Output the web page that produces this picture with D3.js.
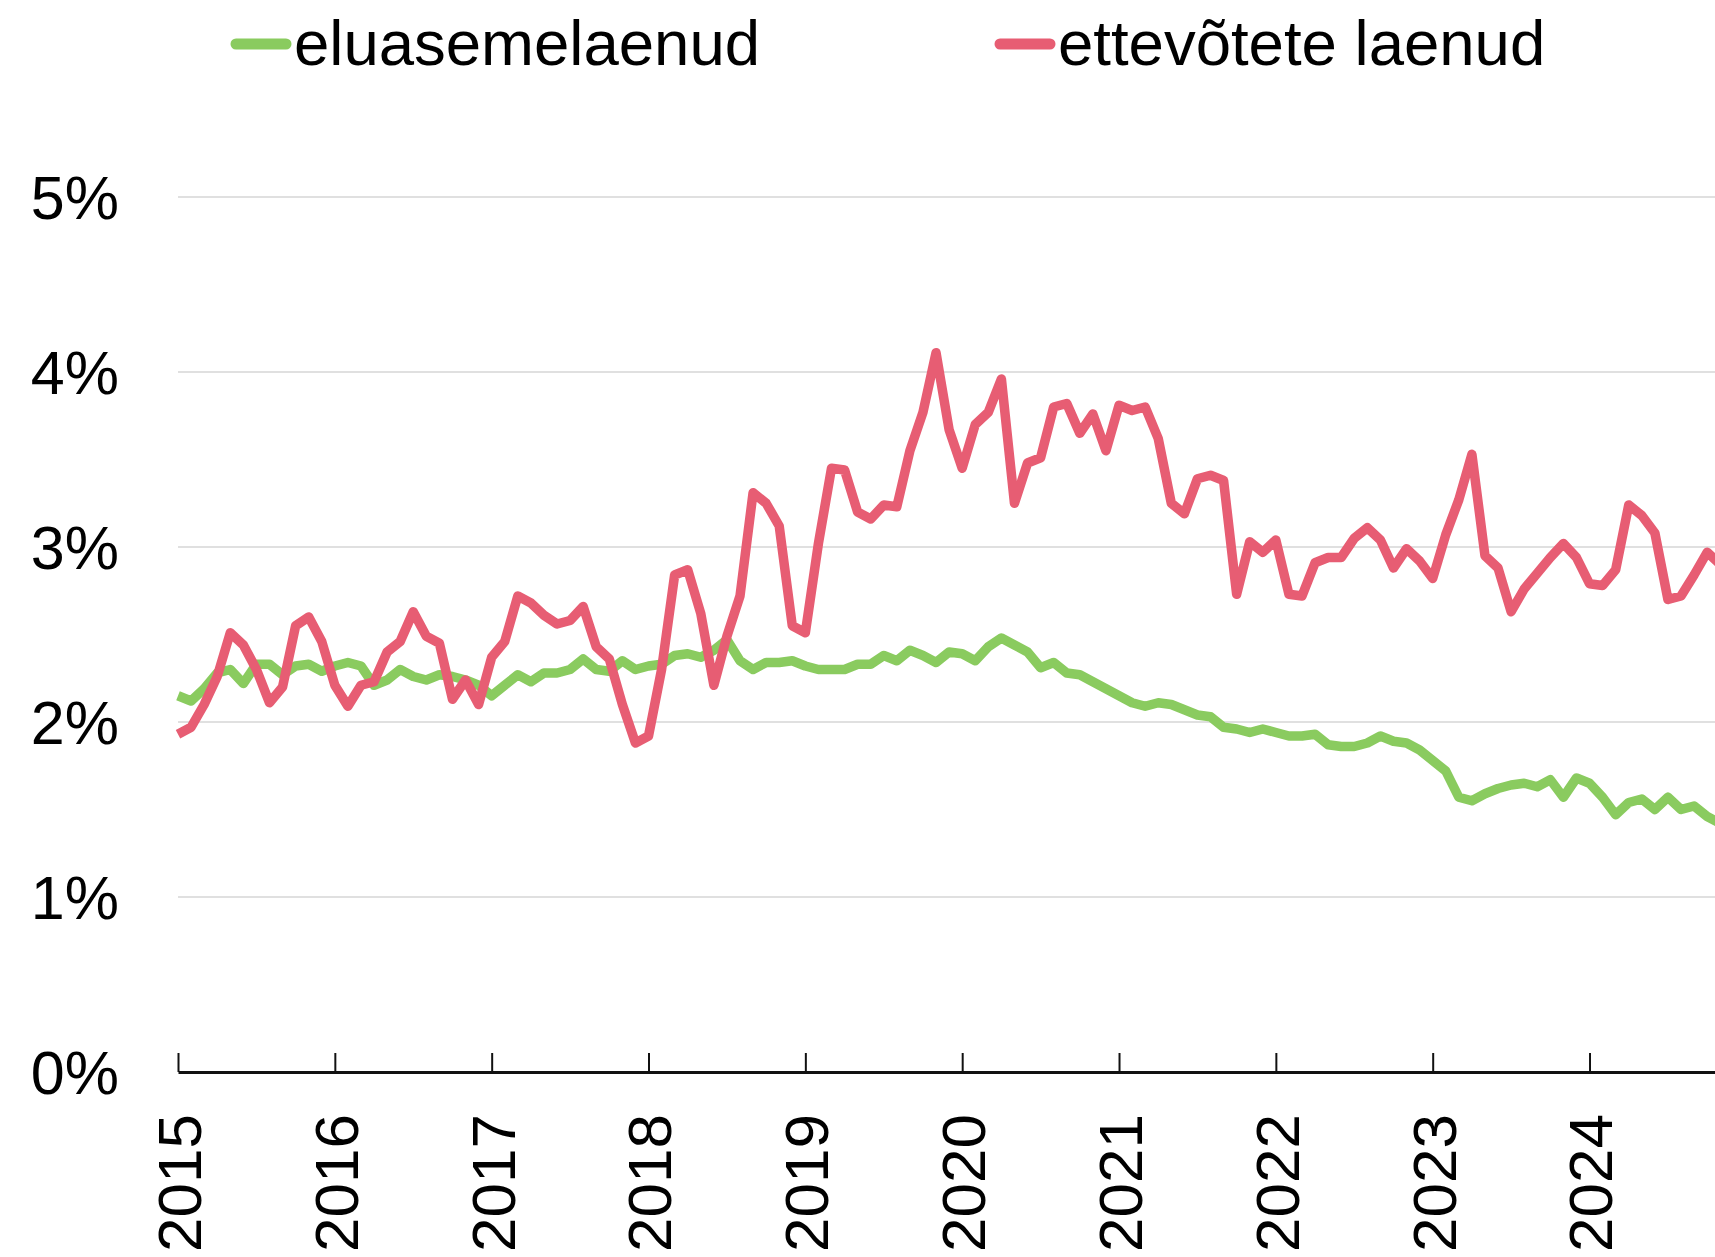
<!DOCTYPE html>
<html>
<head>
<meta charset="utf-8">
<script src="https://cdn.jsdelivr.net/npm/d3@7"></script>
<style>
  body { margin: 0; background: #fff; }
  svg { display: block; font-family: "Liberation Sans", Arial, sans-serif; }
</style>
</head>
<body>
<script>
// monthly values, Jan 2015 onwards (percent)
const housing = [
  2.15, 2.12, 2.19, 2.28, 2.30, 2.22, 2.33, 2.33, 2.27, 2.32, 2.33, 2.29,
  2.32, 2.34, 2.32, 2.21, 2.24, 2.30, 2.26, 2.24, 2.27, 2.26, 2.24, 2.21,
  2.15, 2.21, 2.27, 2.23, 2.28, 2.28, 2.30, 2.36, 2.30, 2.29, 2.35, 2.30,
  2.32, 2.33, 2.38, 2.39, 2.37, 2.41, 2.47, 2.35, 2.30, 2.34, 2.34, 2.35,
  2.32, 2.30, 2.30, 2.30, 2.33, 2.33, 2.38, 2.35, 2.41, 2.38, 2.34, 2.40,
  2.39, 2.35, 2.43, 2.48, 2.44, 2.40, 2.31, 2.34, 2.28, 2.27, 2.23, 2.19,
  2.15, 2.11, 2.09, 2.11, 2.10, 2.07, 2.04, 2.03, 1.97, 1.96, 1.94, 1.96,
  1.94, 1.92, 1.92, 1.93, 1.87, 1.86, 1.86, 1.88, 1.92, 1.89, 1.88, 1.84,
  1.78, 1.72, 1.57, 1.55, 1.59, 1.62, 1.64, 1.65, 1.63, 1.67, 1.57, 1.68,
  1.65, 1.57, 1.47, 1.54, 1.56, 1.50, 1.57, 1.50, 1.52, 1.46, 1.42
];
const business = [
  1.93, 1.97, 2.10, 2.26, 2.51, 2.44, 2.30, 2.11, 2.20, 2.55, 2.60, 2.46,
  2.21, 2.09, 2.21, 2.23, 2.40, 2.46, 2.63, 2.49, 2.45, 2.13, 2.24, 2.10,
  2.37, 2.46, 2.72, 2.68, 2.61, 2.56, 2.58, 2.66, 2.43, 2.36, 2.10, 1.88,
  1.92, 2.30, 2.84, 2.87, 2.62, 2.21, 2.49, 2.72, 3.31, 3.25, 3.12, 2.55,
  2.51, 3.02, 3.45, 3.44, 3.20, 3.16, 3.24, 3.23, 3.55, 3.77, 4.11, 3.67,
  3.45, 3.70, 3.77, 3.96, 3.25, 3.48, 3.51, 3.80, 3.82, 3.65, 3.76, 3.55,
  3.81, 3.78, 3.80, 3.62, 3.25, 3.19, 3.39, 3.41, 3.38, 2.73, 3.03, 2.97,
  3.04, 2.73, 2.72, 2.91, 2.94, 2.94, 3.05, 3.11, 3.04, 2.88, 2.99, 2.92,
  2.82, 3.07, 3.27, 3.53, 2.95, 2.88, 2.63, 2.76, 2.85, 2.94, 3.02, 2.94,
  2.79, 2.78, 2.87, 3.24, 3.18, 3.08, 2.70, 2.72, 2.84, 2.97, 2.90
];
const yearLabels = ["2015", "2016", "2017", "2018", "2019", "2020", "2021", "2022", "2023", "2024"];
const yTicks = [0, 1, 2, 3, 4, 5];
const seriesNames = ["eluasemelaenud", "ettevõtete laenud"];
const colors = ["#8acb5f", "#e75d73"];

const w = 1715;
const h = 1257;
const left = 178;
const y0 = 1072;

const svg = d3.select("body").append("svg").attr("width", w).attr("height", h);

const x = d3.scaleLinear().domain([0, 117.6]).range([left, w]);
const y = d3.scaleLinear().domain([0, 5]).range([y0, y0 - 875]);

// gridlines
svg.selectAll("line.grid")
  .data(yTicks.filter(d => d > 0))
  .enter()
  .append("line")
  .attr("x1", left)
  .attr("x2", w)
  .attr("y1", d => y(d))
  .attr("y2", d => y(d))
  .style("stroke", "#d6d6d6")
  .style("stroke-width", 1.5);

// y labels
svg.selectAll("text.ylab")
  .data(yTicks)
  .enter()
  .append("text")
  .attr("x", 119)
  .attr("y", d => y(d))
  .attr("dy", "0.36em")
  .attr("text-anchor", "end")
  .style("font-size", "61px")
  .text(d => d + "%");

// lines
const line = d3.line().x((d, i) => x(i)).y(d => y(d));
[housing, business].forEach(function (data, k) {
  svg.append("path")
    .datum(data)
    .attr("d", line)
    .style("fill", "none")
    .style("stroke", colors[k])
    .style("stroke-width", 9.5)
    .style("stroke-linejoin", "round");
});

// x axis
const xAxis = d3.axisBottom(x)
  .tickValues(yearLabels.map((d, i) => i * 12))
  .tickFormat((d, i) => yearLabels[i])
  .tickSizeInner(-19)
  .tickSizeOuter(0);

const gx = svg.append("g").attr("transform", `translate(0,${y0})`).call(xAxis);
gx.select(".domain").style("stroke", "#111").style("stroke-width", 3);
gx.selectAll(".tick line").style("stroke", "#111").style("stroke-width", 2);
gx.selectAll(".tick text")
  .attr("transform", "rotate(-90)")
  .attr("x", -42)
  .attr("y", 0)
  .attr("dy", "0.36em")
  .style("text-anchor", "end")
  .style("font-size", "62px")
  .style("font-family", "'Liberation Sans', Arial, sans-serif")
  .style("fill", "#000");

// legend
const legendX = [236, 1000];
seriesNames.forEach(function (name, k) {
  svg.append("line")
    .attr("x1", legendX[k])
    .attr("x2", legendX[k] + 50)
    .attr("y1", 44)
    .attr("y2", 44)
    .style("stroke", colors[k])
    .style("stroke-width", 11)
    .style("stroke-linecap", "round");
  svg.append("text")
    .attr("x", legendX[k] + 58)
    .attr("y", 65)
    .style("font-size", "63.5px")
    .text(name);
});
</script>
</body>
</html>
